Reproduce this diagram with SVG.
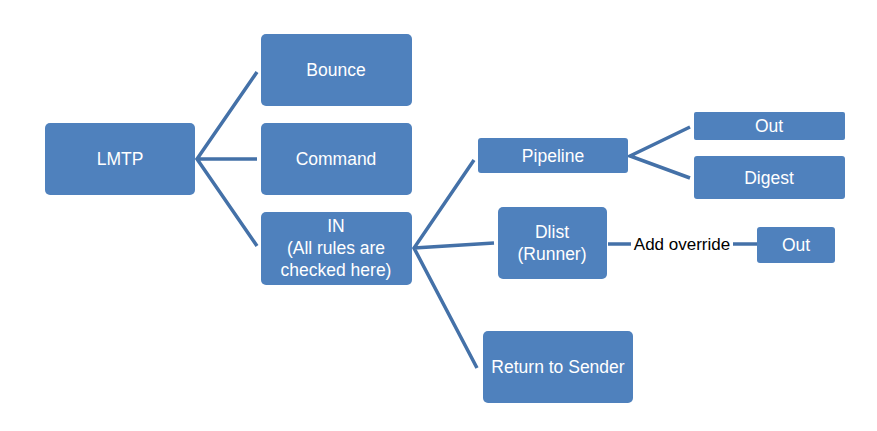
<svg xmlns="http://www.w3.org/2000/svg" width="877" height="431" viewBox="0 0 877 431">
<style>
.n{fill:#4F81BD}
.t{fill:#fff;font-family:"Liberation Sans",Arial,sans-serif;font-size:17.5px;text-anchor:middle}
.c{stroke:#4471A8;stroke-width:3.5;fill:none;stroke-linecap:butt;stroke-linejoin:miter}
.l{fill:#000;font-family:"Liberation Sans",Arial,sans-serif;font-size:17px;text-anchor:middle}
</style>
<rect width="877" height="431" fill="#fff"/>
<g id="connectors">
<path class="c" d="M257,72 L197,159 L257,246 M197,159 L257,159"/>
<path class="c" d="M474,160 L414,248 L477,368 M414,248 L494,243"/>
<path class="c" d="M690,127 L630,156 L690,178"/>
<path class="c" d="M608,244 L757,244"/>
<rect x="631" y="233" width="102" height="22" fill="#fff"/>
<text class="l" x="682" y="250">Add override</text>
</g>
<g id="lmtp"><rect class="n" x="45" y="123" width="150" height="72" rx="5"/><text class="t" x="120" y="165">LMTP</text></g>
<g id="bounce"><rect class="n" x="261" y="34" width="151" height="72" rx="5"/><text class="t" x="336" y="76">Bounce</text></g>
<g id="command"><rect class="n" x="261" y="123" width="151" height="72" rx="5"/><text class="t" x="336" y="165">Command</text></g>
<g id="in"><rect class="n" x="261" y="212" width="151" height="73" rx="5"/><text class="t" x="336" y="232">IN</text><text class="t" x="336" y="254">(All rules are</text><text class="t" x="336" y="276">checked here)</text></g>
<g id="pipeline"><rect class="n" x="478" y="138" width="150" height="35" rx="3"/><text class="t" x="553" y="162">Pipeline</text></g>
<g id="out1"><rect class="n" x="694" y="112" width="151" height="28" rx="2"/><text class="t" x="769" y="132">Out</text></g>
<g id="digest"><rect class="n" x="694" y="156" width="151" height="43" rx="3"/><text class="t" x="769" y="184">Digest</text></g>
<g id="dlist"><rect class="n" x="498" y="207" width="109" height="72" rx="5"/><text class="t" x="552" y="238">Dlist</text><text class="t" x="552" y="260">(Runner)</text></g>
<g id="out2"><rect class="n" x="757" y="227" width="78" height="36" rx="3"/><text class="t" x="796" y="251">Out</text></g>
<g id="return"><rect class="n" x="483" y="331" width="150" height="72" rx="5"/><text class="t" x="558" y="373">Return to Sender</text></g>
</svg>
